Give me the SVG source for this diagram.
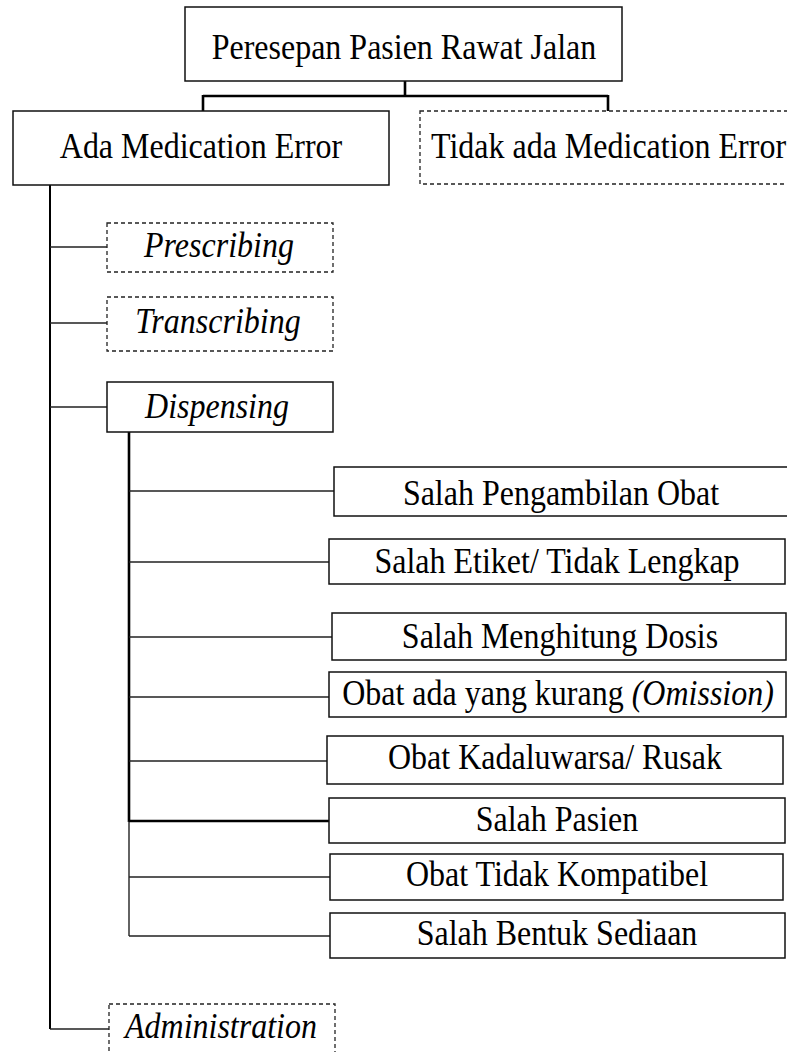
<svg xmlns="http://www.w3.org/2000/svg" width="787" height="1052" viewBox="0 0 787 1052">
<style>
.box{fill:#fff;stroke:#111;stroke-width:1.5}
.dbox{fill:#fff;stroke:#222;stroke-width:1.3;stroke-dasharray:4 3}
text{font-family:"Liberation Serif","Times New Roman",serif;font-size:32px;fill:#000;text-anchor:middle}
.it{font-style:italic}
.thick{stroke:#000;stroke-width:2.6;fill:none}
.mid{stroke:#000;stroke-width:2;fill:none}
.thin{stroke:#222;stroke-width:1.4;fill:none}
</style>
<rect width="787" height="1052" fill="#fff"/>
<g id="connectors">
<path class="thick" d="M405 81V96M203 96H608M203 95V111M608 95V111"/>
<path class="mid" d="M50 185V1029"/>
<path class="thin" d="M50 247H107M50 323H107M50 407H107M50 1029H109"/>
<path class="thick" d="M129 432V822"/>
<path class="thin" d="M129 821V936"/>
<path class="thin" d="M129 491H334M129 562H329M129 637H332M129 697H329M129 761H327M129 877H330M129 936H330"/>
<path class="thick" d="M129 821H329"/>
</g>
<g id="n-root"><rect class="box" x="185" y="7" width="437" height="74"/><text transform="translate(404 59) scale(1 1.1)">Peresepan Pasien Rawat Jalan</text></g>
<g id="n-ada"><rect class="box" x="13" y="111" width="376" height="74"/><text transform="translate(201 158) scale(1 1.1)">Ada Medication Error</text></g>
<g id="n-tidak"><rect class="dbox" x="420" y="111" width="380" height="73"/><text transform="translate(431 158) scale(1 1.1)" style="text-anchor:start">Tidak ada Medication Error</text></g>
<g id="n-prescribing"><rect class="dbox" x="107" y="223" width="226" height="49"/><text class="it" transform="translate(219 257) scale(1 1.1)">Prescribing</text></g>
<g id="n-transcribing"><rect class="dbox" x="107" y="297" width="226" height="54"/><text class="it" transform="translate(218 333) scale(1 1.1)">Transcribing</text></g>
<g id="n-dispensing"><rect class="box" x="107" y="382" width="226" height="50"/><text class="it" transform="translate(217 418) scale(1 1.1)">Dispensing</text></g>
<g id="n-d1"><rect class="box" x="334" y="467" width="460" height="49"/><text transform="translate(561 505) scale(1 1.1)">Salah Pengambilan Obat</text></g>
<g id="n-d2"><rect class="box" x="329" y="539" width="456" height="45"/><text transform="translate(557 573) scale(1 1.1)">Salah Etiket/ Tidak Lengkap</text></g>
<g id="n-d3"><rect class="box" x="332" y="613" width="454" height="47"/><text transform="translate(560 648) scale(1 1.1)">Salah Menghitung Dosis</text></g>
<g id="n-d4"><rect class="box" x="329" y="672" width="457" height="45"/><text transform="translate(558 705) scale(1 1.1)">Obat ada yang kurang <tspan class="it">(Omission)</tspan></text></g>
<g id="n-d5"><rect class="box" x="327" y="736" width="456" height="48"/><text transform="translate(555 769) scale(1 1.1)">Obat Kadaluwarsa/ Rusak</text></g>
<g id="n-d6"><rect class="box" x="329" y="798" width="456" height="45"/><text transform="translate(557 831) scale(1 1.1)">Salah Pasien</text></g>
<g id="n-d7"><rect class="box" x="330" y="854" width="453" height="46"/><text transform="translate(557 886) scale(1 1.1)">Obat Tidak Kompatibel</text></g>
<g id="n-d8"><rect class="box" x="330" y="913" width="455" height="45"/><text transform="translate(557 945) scale(1 1.1)">Salah Bentuk Sediaan</text></g>
<g id="n-admin"><rect class="dbox" x="109" y="1004" width="226" height="60"/><text class="it" transform="translate(221 1038) scale(1 1.1)">Administration</text></g>
</svg>
